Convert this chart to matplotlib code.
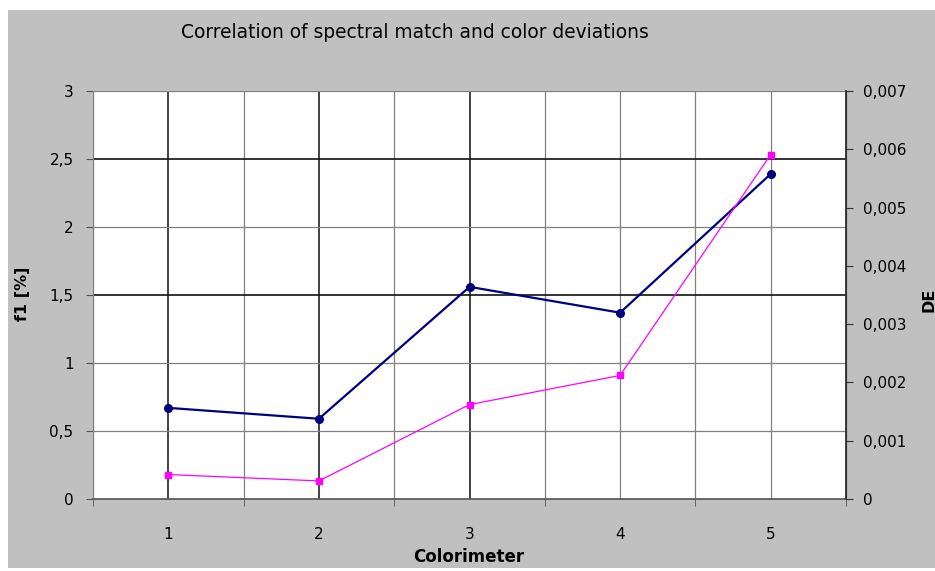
import matplotlib
matplotlib.use("Agg")
import matplotlib.pyplot as plt
from matplotlib.patches import Rectangle
from matplotlib.ticker import FuncFormatter, FixedLocator

colorimeters = [1, 2, 3, 4, 5]
f1 = [0.67, 0.59, 1.56, 1.37, 2.39]
de = [0.00042, 0.00031, 0.00162, 0.00212, 0.00591]

f1_ticks = [0, 0.5, 1, 1.5, 2, 2.5, 3]
de_ticks = [0, 0.001, 0.002, 0.003, 0.004, 0.005, 0.006, 0.007]


def comma(v, pos):
    if v == 0:
        return "0"
    return ("%g" % v).replace(".", ",")


fig = plt.figure(figsize=(9.35, 5.71), dpi=100)
fig.patch.set_facecolor("white")
# gray chart area, like the excel export
fig.patches.append(Rectangle((8 / 935, 0.005), 1, 0.977, transform=fig.transFigure,
                             facecolor="#c0c0c0", edgecolor="none", zorder=-10))

ax = fig.add_axes([0.0995, 0.1261, 0.8053, 0.7145])
ax.set_facecolor("white")
ax2 = ax.twinx()

ax.plot(colorimeters, f1, color="#000080", lw=1.6, marker="o", ms=5.5, zorder=3)
ax2.plot(colorimeters, de, color="#ff00ff", lw=0.9, marker="s", ms=4, zorder=3)

ax.set_xlim(0.5, 5.5)
ax.set_ylim(0, 3)
ax2.set_ylim(0, 0.007)

ax.xaxis.set_major_locator(FixedLocator(colorimeters))
ax.xaxis.set_minor_locator(FixedLocator([0.5, 1.5, 2.5, 3.5, 4.5, 5.5]))
ax.yaxis.set_major_locator(FixedLocator(f1_ticks))
ax2.yaxis.set_major_locator(FixedLocator(de_ticks))
ax.yaxis.set_major_formatter(FuncFormatter(comma))
ax2.yaxis.set_major_formatter(FuncFormatter(comma))

ax.tick_params(axis="x", which="major", length=0, pad=20, labelsize=11)
ax.tick_params(axis="x", which="minor", length=5, direction="out", color="#555555")
ax.tick_params(axis="y", length=5, direction="out", color="#555555", pad=9, labelsize=11)
ax2.tick_params(axis="y", length=5, direction="out", color="#333333", pad=7, labelsize=11)

# gridlines (some print darker in the source)
ax.grid(True, which="both", axis="x", color="#808080", lw=0.9)
ax.grid(True, which="major", axis="y", color="#808080", lw=0.9)
for line, t in zip(ax.get_xgridlines(), colorimeters):
    if t <= 3:
        line.set_color("#222222")
        line.set_linewidth(1.2)
for line, t in zip(ax.get_ygridlines(), f1_ticks):
    if t in (1.5, 2.5):
        line.set_color("#111111")
        line.set_linewidth(1.2)
ax.set_axisbelow(True)

ax.spines["top"].set_visible(False)
ax2.spines["top"].set_visible(False)
ax.spines["left"].set_color("#808080")
ax.spines["bottom"].set_color("#555555")
ax.spines["bottom"].set_linewidth(1.2)
ax2.spines["right"].set_color("#333333")
ax2.spines["right"].set_linewidth(1.3)
ax2.spines["left"].set_visible(False)
ax2.spines["bottom"].set_visible(False)

fig.text(415 / 935, 1 - 33 / 571, "Correlation of spectral match and color deviations",
         ha="center", va="center", fontsize=13.4)
fig.text(469 / 935, 1 - 557 / 571, "Colorimeter", ha="center", va="center",
         fontsize=12, fontweight="bold")
fig.text(22 / 935, 1 - 294 / 571, "f1 [%]", ha="center", va="center", rotation=90,
         fontsize=11.5, fontweight="bold")
fig.text(929 / 935, 1 - 300 / 571, "DE", ha="center", va="center", rotation=90,
         fontsize=11.5, fontweight="bold")

fig.savefig("out.png", dpi=100)
